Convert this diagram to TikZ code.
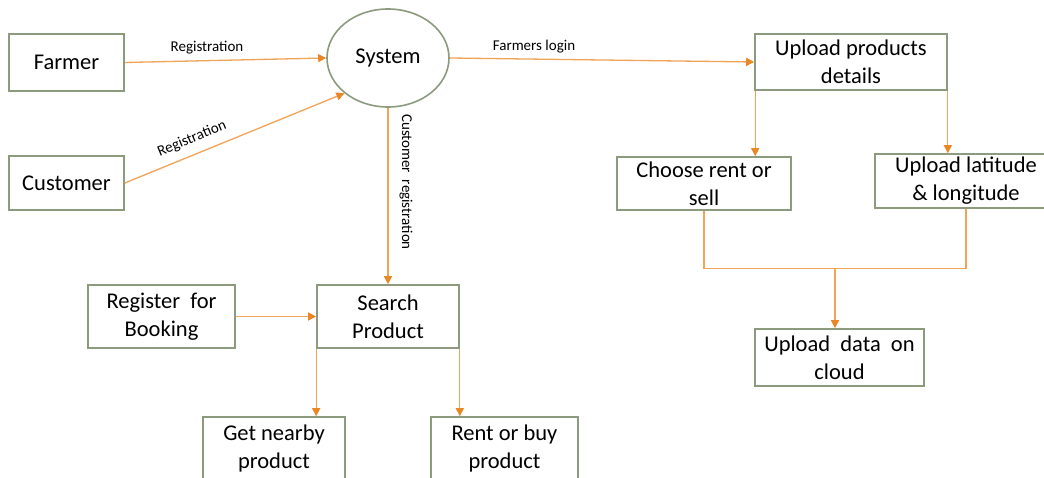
\documentclass[tikz,border=0pt]{standalone}
\usepackage{fontspec}
\setmainfont{Carlito}
\usetikzlibrary{arrows.meta,shapes.geometric}
\definecolor{boxline}{RGB}{140,154,126}
\definecolor{flow}{RGB}{241,163,88}
\definecolor{tipc}{RGB}{233,135,38}
\tikzset{
  box/.style={draw=boxline, line width=1.6pt, fill=white, inner sep=0pt, align=center,
    font=\fontsize{22.5}{28}\selectfont},
  flowline/.style={draw=flow, line width=1.3pt, -{Triangle[length=8pt,width=8pt,color=tipc]}},
  plainline/.style={draw=flow, line width=1.3pt},
  lbl/.style={font=\fontsize{15}{17}\selectfont, inner sep=0pt}
}
\begin{document}
\begin{tikzpicture}[x=1pt,y=-1pt]
\fill[white] (0,0) rectangle (1044,478);
\useasboundingbox (0,0) rectangle (1044,478);
\clip (0,0) rectangle (1044,478);
% nodes
\node[box, minimum width=115pt, minimum height=57pt] (farmer) at (66.5,62.5) {Farmer};
\node[box, minimum width=115pt, minimum height=54pt] (customer) at (66.5,183) {Customer};
\node[draw=boxline, line width=1.6pt, ellipse, minimum width=122pt, minimum height=98pt, inner sep=0pt,
  font=\fontsize{22.5}{28}\selectfont] (system) at (388,58) {System};
\node[box, minimum width=192pt, minimum height=56pt] (upload) at (851,62) {Upload products\\details};
\node[box, minimum width=174pt, minimum height=53pt] (choose) at (704,183.5) {Choose rent or\\sell};
\node[box, minimum width=182pt, minimum height=54pt] (lat) at (966,181) {Upload latitude\\\& longitude};
\node[box, minimum width=169pt, minimum height=57pt] (cloud) at (839.5,357.5) {Upload\ \ data\ \ on\\cloud};
\node[box, minimum width=147pt, minimum height=63pt] (register) at (161.5,316.5) {Register\ \ for\\Booking};
\node[box, minimum width=142pt, minimum height=63pt] (search) at (388,316.5) {Search\\Product};
\node[box, minimum width=142pt, minimum height=63pt] (get) at (274,448.5) {Get nearby\\product};
\node[box, minimum width=147pt, minimum height=63pt] (rent) at (504.5,448.5) {Rent or buy\\product};
% connectors
\draw[flowline] (farmer.east) -- (system.west);
\draw[flowline] (customer.east) -- (system.-141.6);
\draw[flowline] (system.east) -- (upload.west);
\draw[flowline] (system.south) -- (search.north);
\draw[flowline] (register.east) -- (search.west);
\draw[flowline] ([xshift=1pt]upload.south west) -- ([xshift=1pt]upload.south west |- choose.north);
\draw[flowline] (upload.south east) -- (upload.south east |- lat.north);
\draw[flowline] (search.south west) -- (search.south west |- get.north);
\draw[flowline] (search.south east) -- (search.south east |- rent.north);
\coordinate (joinL) at ([yshift=-58pt]choose.south);
\coordinate (joinM) at ([xshift=-4.5pt]cloud.north |- joinL);
\draw[plainline] (choose.south) -- (joinL) -| (lat.south);
\draw[flowline] (joinM) -- (joinM |- cloud.north);
% labels
\node[lbl] (l1) at (207,48) {Registration};
\node[lbl, rotate=22.4] (l2) at (192,139) {Registration};
\node[lbl] (l3) at (534,47) {Farmers login};
\node[lbl, rotate=-90] (l4) at (406,182) {Customer\ \ registration};
\end{tikzpicture}
\end{document}
